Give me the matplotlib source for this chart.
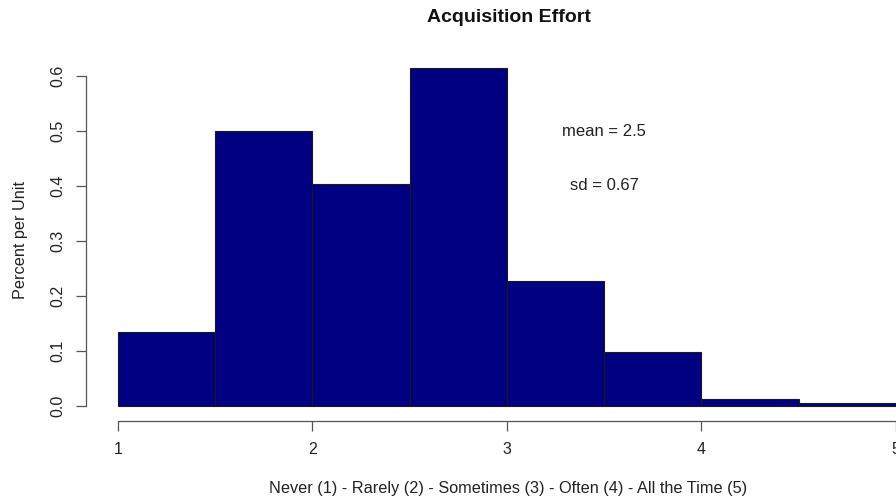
import matplotlib.pyplot as plt

# histogram bins (width 0.5) and density heights
bin_edges = [1.0, 1.5, 2.0, 2.5, 3.0, 3.5, 4.0, 4.5, 5.0]
density = [0.135, 0.5, 0.403, 0.615, 0.228, 0.098, 0.013, 0.005]
x_ticks = [1, 2, 3, 4, 5]
y_ticks = [0.0, 0.1, 0.2, 0.3, 0.4, 0.5, 0.6]
mean_val = 2.5
sd_val = 0.67

plt.rcParams['font.family'] = ['Liberation Sans', 'DejaVu Sans']

W, H = 896, 501
fig = plt.figure(figsize=(W / 100, H / 100), dpi=100, facecolor='white')
# axes box: left spine at px 86, bottom spine at px 421, top at px 60
ax = fig.add_axes([86 / W, (H - 421) / H, 1 - 86 / W, (421 - 60) / H])

widths = [bin_edges[i + 1] - bin_edges[i] for i in range(len(density))]
ax.bar(bin_edges[:-1], density, width=widths, align='edge',
       color='#000080', edgecolor='#1a1a1a', linewidth=0.8)

# 195 px per unit, x=1 at px 118
ax.set_xlim(1 - 32 / 195, 1 + 778 / 195)
ax.set_ylim(-15 / 550, 346 / 550)

for s in ['top', 'right']:
    ax.spines[s].set_visible(False)
ax.spines['left'].set_bounds(0, 0.6)
ax.spines['bottom'].set_bounds(1, 5)
for s in ['left', 'bottom']:
    ax.spines[s].set_color('#555555')
    ax.spines[s].set_linewidth(0.9)

ax.set_xticks(x_ticks)
ax.set_xticklabels([str(t) for t in x_ticks])
ax.set_yticks(y_ticks)
ax.set_yticklabels([f'{t:.1f}' for t in y_ticks], rotation=90, va='center')
ax.tick_params(axis='both', length=7, width=0.9, color='#555555',
               labelsize=11.5, labelcolor='#222222', pad=8)

ax.text(3.5, 0.5, f'mean = {mean_val}', ha='center', va='center',
        fontsize=12, color='#222222')
ax.text(3.5, 0.4, f'sd = {sd_val}', ha='center', va='center',
        fontsize=12, color='#222222')

fig.text(509 / W, 1 - 17 / H, 'Acquisition Effort', ha='center', va='center',
         fontsize=14, fontweight='bold', color='#111111')
fig.text(20 / W, 1 - 240 / H, 'Percent per Unit', ha='center', va='center',
         rotation=90, fontsize=11.7, color='#222222')
fig.text(508 / W, 1 - 489 / H,
         'Never (1) - Rarely (2) - Sometimes (3) - Often (4) - All the Time (5)',
         ha='center', va='center', fontsize=11.7, color='#222222')

fig.savefig('out.png', dpi=100)
